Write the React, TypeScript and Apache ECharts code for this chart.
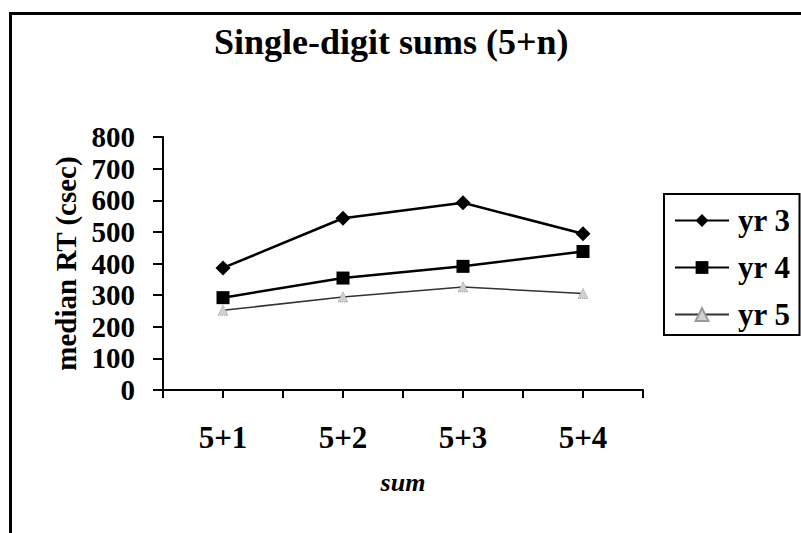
import React, { useEffect, useRef } from "react";
import * as echarts from "echarts";

// Sums shown on the category axis
const sums = ["5+1", "5+2", "5+3", "5+4"];

// Median response time (centiseconds) per school year
const yr3 = [386, 543, 592, 494];
const yr4 = [292, 354, 391, 438];
const yr5 = [252, 294, 326, 305];

const FONT = "'Liberation Serif', 'Times New Roman', serif";

export default function App() {
  const ref = useRef<HTMLDivElement>(null);

  useEffect(() => {
    document.body.style.margin = "0";
    if (!ref.current) return;
    const chart = echarts.init(ref.current, null, { renderer: "svg" });

    chart.setOption({
      animation: false,
      backgroundColor: "#ffffff",
      title: {
        text: "Single-digit sums (5+n)",
        left: 214,
        top: 24,
        padding: 0,
        textStyle: {
          fontFamily: FONT,
          fontWeight: "bold",
          fontSize: 36,
          color: "#000",
        },
      },
      legend: {
        orient: "vertical",
        left: 664,
        top: 194,
        padding: [11, 9, 5, 10],
        itemGap: 16,
        itemWidth: 54,
        itemHeight: 16,
        borderColor: "#000",
        borderWidth: 2,
        borderRadius: 0,
        textStyle: {
          fontFamily: FONT,
          fontWeight: "bold",
          fontSize: 31,
          lineHeight: 30,
          color: "#000",
          padding: [0, 0, 0, 4],
        },
        data: ["yr 3", "yr 4", "yr 5"],
      },
      grid: {
        left: 163,
        right: 158,
        top: 137,
        bottom: 143,
        containLabel: false,
      },
      xAxis: [
        {
          type: "category",
          data: sums,
          boundaryGap: true,
          name: "sum",
          nameLocation: "middle",
          nameGap: 79,
          nameTextStyle: {
            fontFamily: FONT,
            fontWeight: "bold",
            fontStyle: "italic",
            fontSize: 26,
            color: "#000",
          },
          axisLine: { lineStyle: { color: "#000", width: 2 } },
          axisTick: { show: true, length: 8, lineStyle: { color: "#000", width: 2 } },
          axisLabel: {
            margin: 32,
            fontFamily: FONT,
            fontWeight: "bold",
            fontSize: 31,
            color: "#000",
          },
          splitLine: { show: false },
        },
        {
          // centre ticks under each category
          type: "category",
          data: sums,
          position: "bottom",
          boundaryGap: true,
          axisLine: { show: false },
          axisTick: {
            show: true,
            alignWithLabel: true,
            length: 8,
            lineStyle: { color: "#000", width: 2 },
          },
          axisLabel: { show: false },
          splitLine: { show: false },
        },
      ],
      yAxis: {
        type: "value",
        min: 0,
        max: 800,
        interval: 100,
        name: "median RT (csec)",
        nameLocation: "middle",
        nameRotate: 90,
        nameGap: 50,
        nameTextStyle: {
          fontFamily: FONT,
          fontWeight: "bold",
          fontSize: 29,
          color: "#000",
        },
        axisLine: { show: true, lineStyle: { color: "#000", width: 2 } },
        axisTick: { show: true, length: 10, lineStyle: { color: "#000", width: 2 } },
        axisLabel: {
          margin: 28,
          fontFamily: FONT,
          fontWeight: "bold",
          fontSize: 29,
          color: "#000",
        },
        splitLine: { show: false },
      },
      graphic: [
        {
          // page frame: only its left and top edges fall inside the chart
          type: "rect",
          left: 8,
          top: 11,
          shape: { x: 0, y: 0, width: 820, height: 560 },
          style: { fill: "none", stroke: "#000", lineWidth: 3 },
          z: 10,
        },
      ],
      series: [
        {
          name: "yr 3",
          type: "line",
          data: yr3,
          symbol: "diamond",
          symbolSize: 15,
          lineStyle: { color: "#000", width: 2.5 },
          itemStyle: { color: "#000" },
        },
        {
          name: "yr 4",
          type: "line",
          data: yr4,
          symbol: "rect",
          symbolSize: 13,
          lineStyle: { color: "#000", width: 2.5 },
          itemStyle: { color: "#000" },
        },
        {
          name: "yr 5",
          type: "line",
          data: yr5,
          symbol: "triangle",
          symbolSize: 10,
          lineStyle: { color: "#333", width: 1.5 },
          itemStyle: {
            color: "#d0d0d0",
            borderColor: "#999",
            borderWidth: 1,
            borderType: "dotted",
          },
        },
      ],
    });

    return () => chart.dispose();
  }, []);

  return <div ref={ref} style={{ width: 801, height: 533 }} />;
}
